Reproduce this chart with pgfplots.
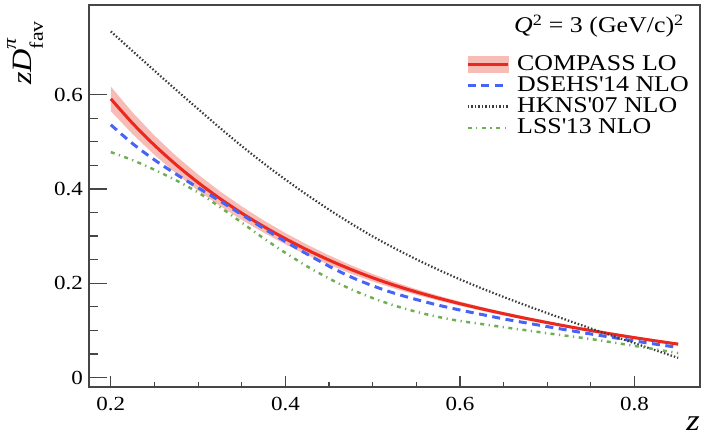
\documentclass[border=0pt]{standalone}
\usepackage{fontspec}
\setmainfont{Liberation Serif}[FakeStretch=1.15]
\usepackage{pgfplots}
\pgfplotsset{compat=1.18}
\usepackage{pgfplotstable}
\usepgfplotslibrary{fillbetween}

\definecolor{cred}{RGB}{235,40,30}
\definecolor{cband}{RGB}{247,188,182}
\definecolor{cblue}{RGB}{70,100,245}
\definecolor{cgreen}{RGB}{110,175,85}
\definecolor{cblack}{RGB}{60,60,60}
\definecolor{cframe}{RGB}{70,70,70}

\pgfplotstableread{
z     red    lo     hi     blue   black  green
0.200 0.5910 0.5650 0.6170 0.5360 0.7340 0.4780
0.225 0.5390 0.5160 0.5620 0.4960 0.6922 0.4610
0.250 0.4926 0.4721 0.5131 0.4616 0.6507 0.4406
0.275 0.4510 0.4325 0.4695 0.4310 0.6097 0.4180
0.300 0.4135 0.3965 0.4305 0.4025 0.5694 0.3925
0.325 0.3796 0.3641 0.3951 0.3746 0.5294 0.3616
0.350 0.3486 0.3344 0.3628 0.3456 0.4909 0.3286
0.375 0.3204 0.3074 0.3334 0.3164 0.4544 0.2954
0.400 0.2945 0.2825 0.3065 0.2885 0.4199 0.2645
0.425 0.2707 0.2597 0.2817 0.2617 0.3871 0.2357
0.450 0.2491 0.2391 0.2591 0.2361 0.3561 0.2101
0.475 0.2294 0.2204 0.2384 0.2134 0.3268 0.1874
0.500 0.2116 0.2036 0.2196 0.1946 0.2993 0.1686
0.525 0.1957 0.1887 0.2027 0.1787 0.2743 0.1527
0.550 0.1815 0.1755 0.1875 0.1655 0.2508 0.1395
0.575 0.1686 0.1634 0.1738 0.1536 0.2288 0.1286
0.600 0.1567 0.1522 0.1612 0.1432 0.2083 0.1200
0.625 0.1457 0.1417 0.1497 0.1337 0.1891 0.1135
0.650 0.1354 0.1318 0.1390 0.1244 0.1709 0.1068
0.675 0.1257 0.1223 0.1291 0.1162 0.1535 0.1005
0.700 0.1166 0.1134 0.1198 0.1081 0.1367 0.0940
0.725 0.1079 0.1049 0.1109 0.1001 0.1203 0.0879
0.750 0.0997 0.0967 0.1027 0.0924 0.1042 0.0817
0.775 0.0920 0.0890 0.0950 0.0850 0.0884 0.0745
0.800 0.0846 0.0816 0.0876 0.0776 0.0728 0.0671
0.825 0.0776 0.0746 0.0806 0.0706 0.0573 0.0596
0.850 0.0709 0.0679 0.0739 0.0639 0.0418 0.0519
}\data

\begin{document}
\begin{tikzpicture}
\begin{axis}[name=ax,
  scale only axis, width=611pt, height=382pt,
  xmin=0.175, xmax=0.875, ymin=-0.02, ymax=0.79,
  xtick={0.2,0.4,0.6,0.8}, ytick=\empty, minor x tick num=3,
  tick pos=left, tick align=inside,
  major tick length=11pt, minor tick length=5.5pt,
  axis line style={line width=1.3pt, cframe},
  tick style={line width=1.2pt, cframe},
  /pgf/number format/assume math mode=true,
  xticklabel style={font=\fontsize{20}{24}\selectfont, inner sep=0pt, anchor=north, yshift=-10pt},
  xlabel={\textit{z}},
  every axis x label/.style={at={(rel axis cs:1,0)}, anchor=north east, inner sep=0pt, yshift=-30pt, font=\fontsize{30}{30}\selectfont},
  ylabel={\textit{zD}\makebox[0pt][l]{\raisebox{16pt}{\fontsize{19}{19}\selectfont\textit{π}}}\raisebox{-11pt}{\fontsize{19}{19}\selectfont fav}},
  every axis y label/.style={at={(rel axis cs:0,1)}, xshift=-64pt, yshift=-16pt, rotate=90, anchor=east, inner sep=0pt, font=\fontsize{28}{28}\selectfont},
  legend image code/.code={\draw[#1] (0pt,0pt) -- (40pt,0pt);},
  legend cell align=left,
  legend style={at={(0,1)}, anchor=north west, xshift=377pt, yshift=-50pt,
    draw=none, fill=none, inner sep=0pt,
    font=\fontsize{22.5}{22.5}\selectfont, row sep=3.2pt,
    nodes={inner sep=0pt, text height=15pt, text depth=3pt},
    /tikz/every odd column/.append style={column sep=8pt}},
]
\addplot[name path=hi, draw=none, forget plot] table[x=z, y=hi] {\data};
\addplot[name path=lo, draw=none, forget plot] table[x=z, y=lo] {\data};
\addplot[cband, forget plot] fill between[of=hi and lo];
\addplot[cred, line width=3pt, smooth, forget plot] table[x=z, y=red] {\data};
\addplot[cblue, line width=3pt, dash pattern=on 8pt off 5.5pt, smooth, forget plot] table[x=z, y=blue] {\data};
\addplot[cblack, line width=2.2pt, dash pattern=on 1.5pt off 2pt, smooth, forget plot] table[x=z, y=black] {\data};
\addplot[cgreen, line width=2.5pt, dash pattern=on 4pt off 4.5pt on 1.2pt off 4.5pt, smooth, forget plot] table[x=z, y=green] {\data};

\addlegendimage{legend image code/.code={\fill[cband] (0pt,-8pt) rectangle (40pt,8pt); \draw[cred, line width=3pt] (0pt,0pt) -- (40pt,0pt);}}
\addlegendentry{COMPASS LO}
\addlegendimage{cblue, line width=3pt, dash pattern=on 8pt off 5.5pt}
\addlegendentry{DSEHS\textquotesingle14 NLO}
\addlegendimage{cblack, line width=2.2pt, dash pattern=on 1.5pt off 2pt}
\addlegendentry{HKNS\textquotesingle07 NLO}
\addlegendimage{cgreen, line width=2.5pt, dash pattern=on 4pt off 4.5pt on 1.2pt off 4.5pt}
\addlegendentry{LSS\textquotesingle13 NLO}

\node[anchor=base west, inner sep=0pt, font=\fontsize{22.5}{22.5}\selectfont] at ([xshift=425pt, yshift=-28pt]rel axis cs:0,1) {\textit{Q}\textsuperscript{2} = 3 (GeV/c)\textsuperscript{2}};
\end{axis}
\begin{axis}[
  at={(ax.south west)}, anchor=south west,
  scale only axis, width=611pt, height=382pt,
  xmin=0.175, xmax=0.875, ymin=-0.02, ymax=0.79,
  xtick=\empty, ytick={0,0.2,0.4,0.6}, minor y tick num=3,
  tick pos=left, tick align=inside,
  major tick length=18pt, minor tick length=9pt,
  axis line style={line width=1.3pt, cframe},
  tick style={line width=1.2pt, cframe},
  /pgf/number format/assume math mode=true,
  yticklabel style={font=\fontsize{20}{24}\selectfont, inner sep=0pt, anchor=east, xshift=-6pt},
]
\end{axis}
\path ([shift={(-89pt,-60pt)}]ax.south west) rectangle ([shift={(16pt,5pt)}]ax.north east);
\end{tikzpicture}
\end{document}
